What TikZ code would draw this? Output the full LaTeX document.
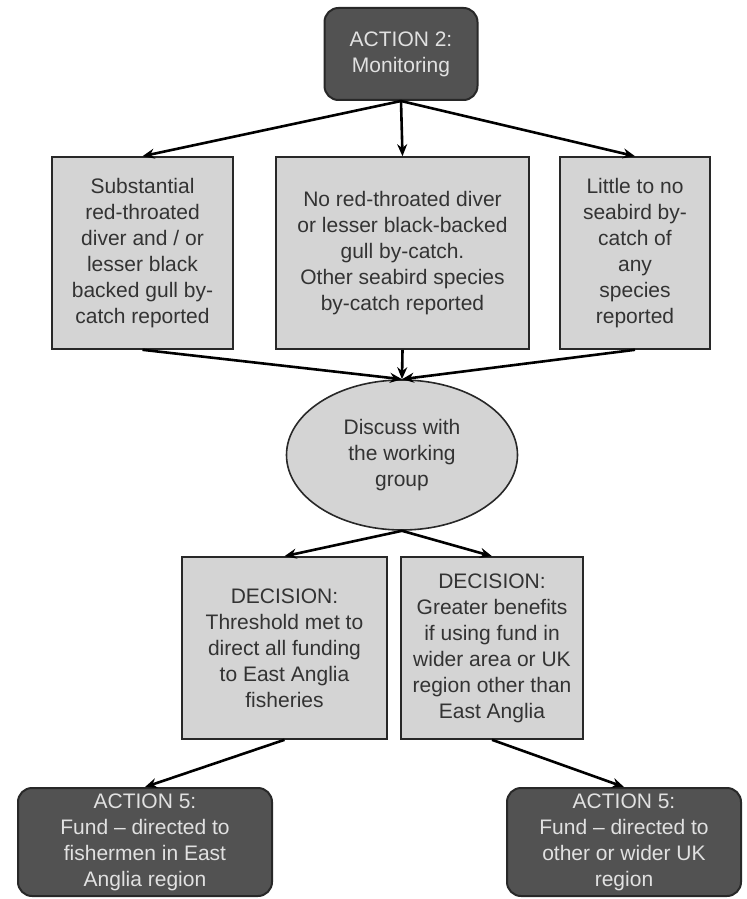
\documentclass[tikz,border=0pt]{standalone}
\usepackage{fontspec}
\setmainfont{Liberation Sans}
\usepackage{tikz}
\usetikzlibrary{shapes.geometric,arrows.meta,positioning}
\definecolor{actiongrey}{RGB}{82, 82, 82}
\definecolor{boxgrey}{RGB}{212, 212, 212}
\definecolor{edgegrey}{RGB}{40, 40, 40}
\definecolor{paletext}{RGB}{225, 225, 225}

\tikzset{
    actionbox/.style={draw=edgegrey, line width=1pt, fill=actiongrey, text=paletext, rounded corners=7pt, align=center, inner sep=2pt},
    greybox/.style={draw=edgegrey, line width=0.8pt, fill=boxgrey, text=black!80, align=center, inner sep=2pt},
    flowarrow/.style={-{Stealth[length=6pt,width=5pt]}, line width=1.3pt, black}
}

\begin{document}
\begin{tikzpicture}[x=0.5pt, y=-0.5pt, font=\fontsize{10.5}{13}\selectfont]
    \useasboundingbox (0,0) rectangle (747,899);

    % Top: monitoring action
    \node[actionbox, minimum width=76.5pt, minimum height=46pt] (MONITOR) at (401, 54) {
        ACTION 2:\\
        Monitoring
    };

    % Row of by-catch outcomes
    \node[greybox, minimum width=90.5pt, minimum height=96pt] (SUBST) at (142.5, 253) {
        Substantial\\
        red-throated\\
        diver and / or\\
        lesser black\\
        backed gull by-\\
        catch reported
    };

    \node[greybox, minimum width=126.5pt, minimum height=96pt] (OTHER) at (402.5, 253) {
        No red-throated diver\\
        or lesser black-backed\\
        gull by-catch.\\
        Other seabird species\\
        by-catch reported
    };

    \node[greybox, minimum width=75pt, minimum height=96pt] (LITTLE) at (635, 253) {
        Little to no\\
        seabird by-\\
        catch of\\
        any\\
        species\\
        reported
    };

    % Working group
    \node[greybox, ellipse, inner sep=0pt, minimum width=115.5pt, minimum height=75pt] (DISCUSS) at (402, 455) {
        Discuss with\\
        the working\\
        group
    };

    % Decisions
    \node[greybox, minimum width=102.5pt, minimum height=91pt] (DEC_EA) at (284.5, 648) {
        DECISION:\\
        Threshold met to\\
        direct all funding\\
        to East Anglia\\
        fisheries
    };

    \node[greybox, minimum width=91pt, minimum height=91pt] (DEC_UK) at (492, 648) {
        DECISION:\\
        Greater benefits\\
        if using fund in\\
        wider area or UK\\
        region other than\\
        East Anglia
    };

    % Bottom: funding actions
    \node[actionbox, minimum width=127pt, minimum height=54pt] (FUND_EA) at (145, 842) {
        ACTION 5:\\
        Fund -- directed to\\
        fishermen in East\\
        Anglia region
    };

    \node[actionbox, minimum width=117pt, minimum height=54pt] (FUND_UK) at (624, 842) {
        ACTION 5:\\
        Fund -- directed to\\
        other or wider UK\\
        region
    };

    % Arrows
    \draw[flowarrow] (MONITOR.south) -- (SUBST.north);
    \draw[flowarrow] (MONITOR.south) -- (OTHER.north);
    \draw[flowarrow] (MONITOR.south) -- (LITTLE.north);

    \draw[flowarrow] (SUBST.south) -- (DISCUSS.north);
    \draw[flowarrow] (OTHER.south) -- (DISCUSS.north);
    \draw[flowarrow] (LITTLE.south) -- (DISCUSS.north);

    \draw[flowarrow] (DISCUSS.south) -- (DEC_EA.north);
    \draw[flowarrow] (DISCUSS.south) -- (DEC_UK.north);

    \draw[flowarrow] (DEC_EA.south) -- (FUND_EA.north);
    \draw[flowarrow] (DEC_UK.south) -- (FUND_UK.north);
\end{tikzpicture}
\end{document}
